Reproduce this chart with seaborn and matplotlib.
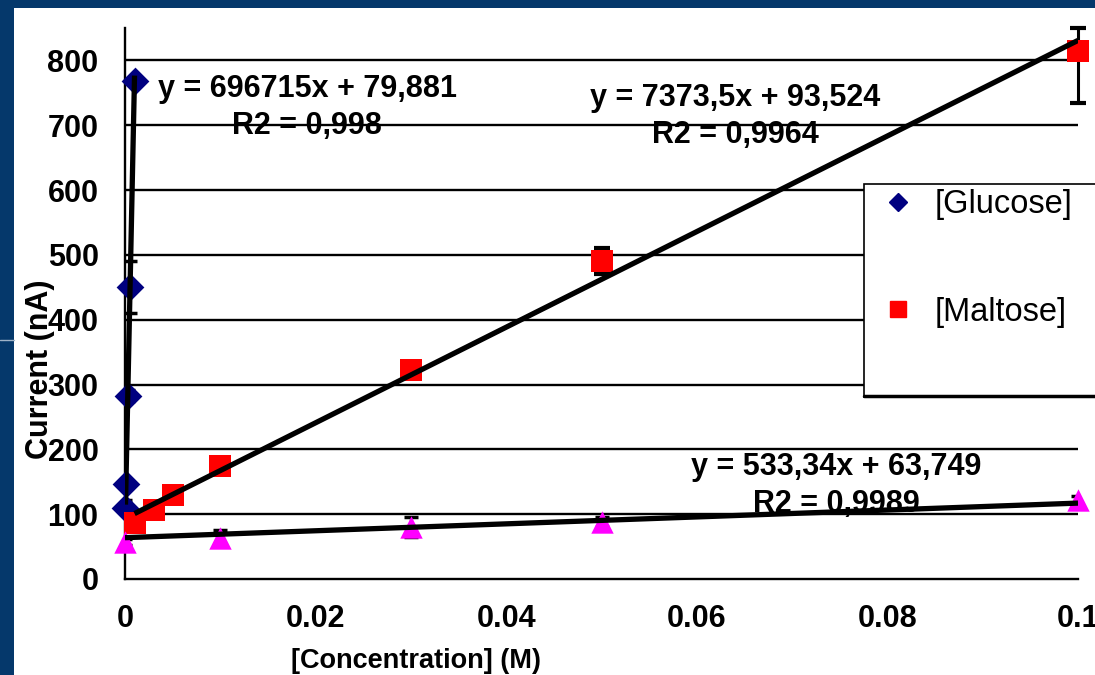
import numpy as np
import pandas as pd
import matplotlib
matplotlib.use("Agg")
import matplotlib.pyplot as plt
from matplotlib.patches import Rectangle
from matplotlib.lines import Line2D
import seaborn as sns

sns.set_theme(style="white")
plt.rcParams['font.family'] = ['Liberation Sans', 'DejaVu Sans']
plt.rcParams['text.color'] = 'black'
plt.rcParams['xtick.color'] = 'black'
plt.rcParams['ytick.color'] = 'black'
plt.rcParams['axes.labelcolor'] = 'black'

# data
glucose_x = [0.00005, 0.0001, 0.0003, 0.0005, 0.001]
glucose_y = [110, 147, 283, 450, 768]
glucose_err = [12, 5, 8, 40, 4]

maltose_x = [0.001, 0.003, 0.005, 0.01, 0.03, 0.05, 0.1]
maltose_y = [86, 107, 130, 175, 323, 491, 814]
maltose_err_low = [6, 12, 6, 8, 8, 20, 80]
maltose_err_high = [6, 12, 6, 8, 8, 20, 36]   # last one is cut at the axis top

third_x = [0.0, 0.01, 0.03, 0.05, 0.1]
third_y = [57, 63, 80, 88, 122]
third_err = [5, 12, 15, 8, 6]

# trend lines as printed on the chart
fits = {
    'glucose': (696715, 79.881, "y = 696715x + 79,881\nR2 = 0,998"),
    'maltose': (7373.5, 93.524, "y = 7373,5x + 93,524\nR2 = 0,9964"),
    'third': (533.34, 63.749, "y = 533,34x + 63,749\nR2 = 0,9989"),
}

navy = '#05386b'
fig = plt.figure(figsize=(10.95, 6.75), dpi=100, facecolor=navy)
fig.patches.append(Rectangle((14 / 1095, 0), 1, 1 - 8 / 675, transform=fig.transFigure,
                             facecolor='white', edgecolor='none', zorder=0))
fig.lines.append(Line2D([0, 14 / 1095], [1 - 340 / 675] * 2, transform=fig.transFigure,
                        color='#9fb3c8', lw=1))

ax = fig.add_axes([125 / 1095, 96 / 675, 953 / 1095, 551 / 675])
ax.set_facecolor('none')
ax.set_zorder(2)

# error bars
ax.errorbar(glucose_x, glucose_y, yerr=glucose_err, fmt='none', ecolor='black',
            elinewidth=1.6, capsize=5, capthick=2.5, zorder=3)
ax.errorbar(maltose_x, maltose_y, yerr=[maltose_err_low, maltose_err_high], fmt='none',
            ecolor='black', elinewidth=2.2, capsize=6, capthick=3, zorder=3, clip_on=False)
ax.errorbar(third_x, third_y, yerr=third_err, fmt='none', ecolor='black',
            elinewidth=1.6, capsize=5, capthick=2.5, zorder=3)

# points
g = pd.DataFrame({'x': glucose_x, 'y': glucose_y})
m = pd.DataFrame({'x': maltose_x, 'y': maltose_y})
t = pd.DataFrame({'x': third_x, 'y': third_y})
sns.scatterplot(data=g, x='x', y='y', marker='D', s=200, color='#000080', edgecolor='#000080',
                linewidth=0, ax=ax, zorder=4, clip_on=False)
sns.scatterplot(data=m, x='x', y='y', marker='s', s=260, color='#ff0000', edgecolor='#ff0000',
                linewidth=0, ax=ax, zorder=4, clip_on=False)
sns.scatterplot(data=t, x='x', y='y', marker='^', s=260, color='#ff00ff', edgecolor='#ff00ff',
                linewidth=0, ax=ax, zorder=4, clip_on=False)

# trend lines across each series' range
for key, xs in [('glucose', glucose_x), ('maltose', maltose_x), ('third', third_x)]:
    a, b, _ = fits[key]
    xx = np.array([min(xs), max(xs)])
    ax.plot(xx, a * xx + b, color='black', lw=3.8, zorder=5, solid_capstyle='butt')

ax.set_xlim(0, 0.1)
ax.set_ylim(0, 850)
ax.set_yticks(range(0, 900, 100))
ax.set_xticks([0, 0.02, 0.04, 0.06, 0.08, 0.1])
ax.set_xticklabels(['0', '0.02', '0.04', '0.06', '0.08', '0.1'])
for yv in range(100, 900, 100):
    ax.axhline(yv, color='black', lw=1.7, zorder=1)
for s in ['top', 'right']:
    ax.spines[s].set_visible(False)
for s in ['left', 'bottom']:
    ax.spines[s].set_color('black')
    ax.spines[s].set_linewidth(1.7)
ax.tick_params(axis='both', direction='out', length=8, width=1.7, color='black',
               labelsize=22, pad=10)
ax.tick_params(axis='y', pad=11)
for lab in ax.get_xticklabels() + ax.get_yticklabels():
    lab.set_fontweight('bold')

ax.set_xlabel('[Concentration] (M)', fontsize=19.5, fontweight='bold')
ax.set_ylabel('Current (nA)', fontsize=22, fontweight='bold')
ax.yaxis.set_label_coords(-0.073, 0.38)
ax.xaxis.set_label_coords(0.305, -0.126)

# equations
eq_style = dict(ha='center', va='center', fontsize=22, fontweight='bold', zorder=6,
                linespacing=1.3)
ax.text(0.0191, 728, fits['glucose'][2], **eq_style)
ax.text(0.0640, 713, fits['maltose'][2], **eq_style)
ax.text(0.0746, 144, fits['third'][2], **eq_style)

# legend box, cut off at the right edge like the original
ax.add_patch(Rectangle((864 / 1095, 1 - 397 / 675), 0.3, 213 / 675, transform=fig.transFigure,
                       facecolor='white', edgecolor='black', lw=1.2, zorder=7, clip_on=False))
ax.add_line(Line2D([864 / 1095, 1], [1 - 396 / 675] * 2, transform=fig.transFigure,
                   color='black', lw=2.5, zorder=8, clip_on=False))
handles = [Line2D([], [], marker='D', color='#000080', ls='none', markersize=9),
           Line2D([], [], marker='s', color='#ff0000', ls='none', markersize=12)]
leg = ax.legend(handles, ['[Glucose]', '[Maltose]'], loc='upper left',
                bbox_to_anchor=(882 / 1095, 1 - 189 / 675), bbox_transform=fig.transFigure,
                frameon=False, fontsize=23.5, handletextpad=0.6, labelspacing=2.35,
                handlelength=1.0, borderpad=0, borderaxespad=0)
leg.set_zorder(9)

fig.savefig('out.png', dpi=100, facecolor=navy)
